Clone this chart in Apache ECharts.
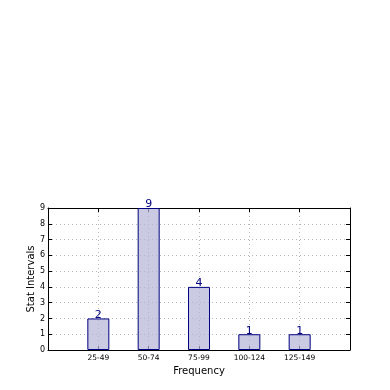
<!DOCTYPE html>
<html><head><meta charset="utf-8">
<script src="https://cdn.jsdelivr.net/npm/echarts@6/dist/echarts.min.js"></script>
<style>html,body{margin:0;padding:0;background:#fff}#c{width:390px;height:390px}</style>
</head><body><div id="c"></div>
<script>
const categories = ['25-49', '50-74', '75-99', '100-124', '125-149'];
const values = [2, 9, 4, 1, 1];
const yTicks = [0,1,2,3,4,5,6,7,8,9];

const chart = echarts.init(document.getElementById('c'), null, {renderer:'canvas'});
const font = 'DejaVu Sans';
const gridLine = {show:true, lineStyle:{color:'#b8b8b8', type:[1,3], width:1}};
const line = {show:true, onZero:false, lineStyle:{color:'#000', width:1}};
const tick = {show:true, inside:true, length:4, lineStyle:{color:'#000', width:1}};
chart.setOption({
  animation:false,
  grid:{left:48, right:40, top:208, bottom:40, show:false},
  xAxis:[{
    type:'value', position:'bottom', min:0, max:categories.length+1, interval:1,
    name:'Frequency', nameLocation:'middle', nameGap:16, nameMoveOverlap:false,
    nameTextStyle:{fontFamily:font, fontSize:10, color:'#000'},
    axisLine:line, axisTick:tick,
    axisLabel:{fontFamily:font, fontSize:7.5, color:'#000', margin:4,
      formatter:v => categories[Math.round(v)-1] || ''},
    splitLine:gridLine
  },{
    type:'value', position:'top', min:0, max:categories.length+1, interval:1,
    axisLine:line, axisTick:tick, axisLabel:{show:false}, splitLine:{show:false}
  }],
  yAxis:[{
    type:'value', position:'left', min:yTicks[0], max:yTicks[yTicks.length-1], interval:1,
    name:'Stat Intervals', nameLocation:'middle', nameGap:12, nameMoveOverlap:false,
    nameTextStyle:{fontFamily:font, fontSize:10, color:'#000'},
    axisLine:line, axisTick:tick,
    axisLabel:{fontFamily:font, fontSize:8, color:'#000', margin:3},
    splitLine:gridLine
  },{
    type:'value', position:'right', min:yTicks[0], max:yTicks[yTicks.length-1], interval:1,
    axisLine:line, axisTick:tick, axisLabel:{show:false}, splitLine:{show:false}
  }],
  series:[{
    type:'bar', xAxisIndex:0, yAxisIndex:0,
    data: values.map((v,i)=>[i+1, v]),
    barWidth:22,
    itemStyle:{color:'rgba(180,180,215,0.7)', borderColor:'#000080', borderWidth:1},
    label:{show:true, position:'top', distance:-2, color:'#000080', fontFamily:font, fontSize:11},
    z:1
  }]
});
</script></body></html>
